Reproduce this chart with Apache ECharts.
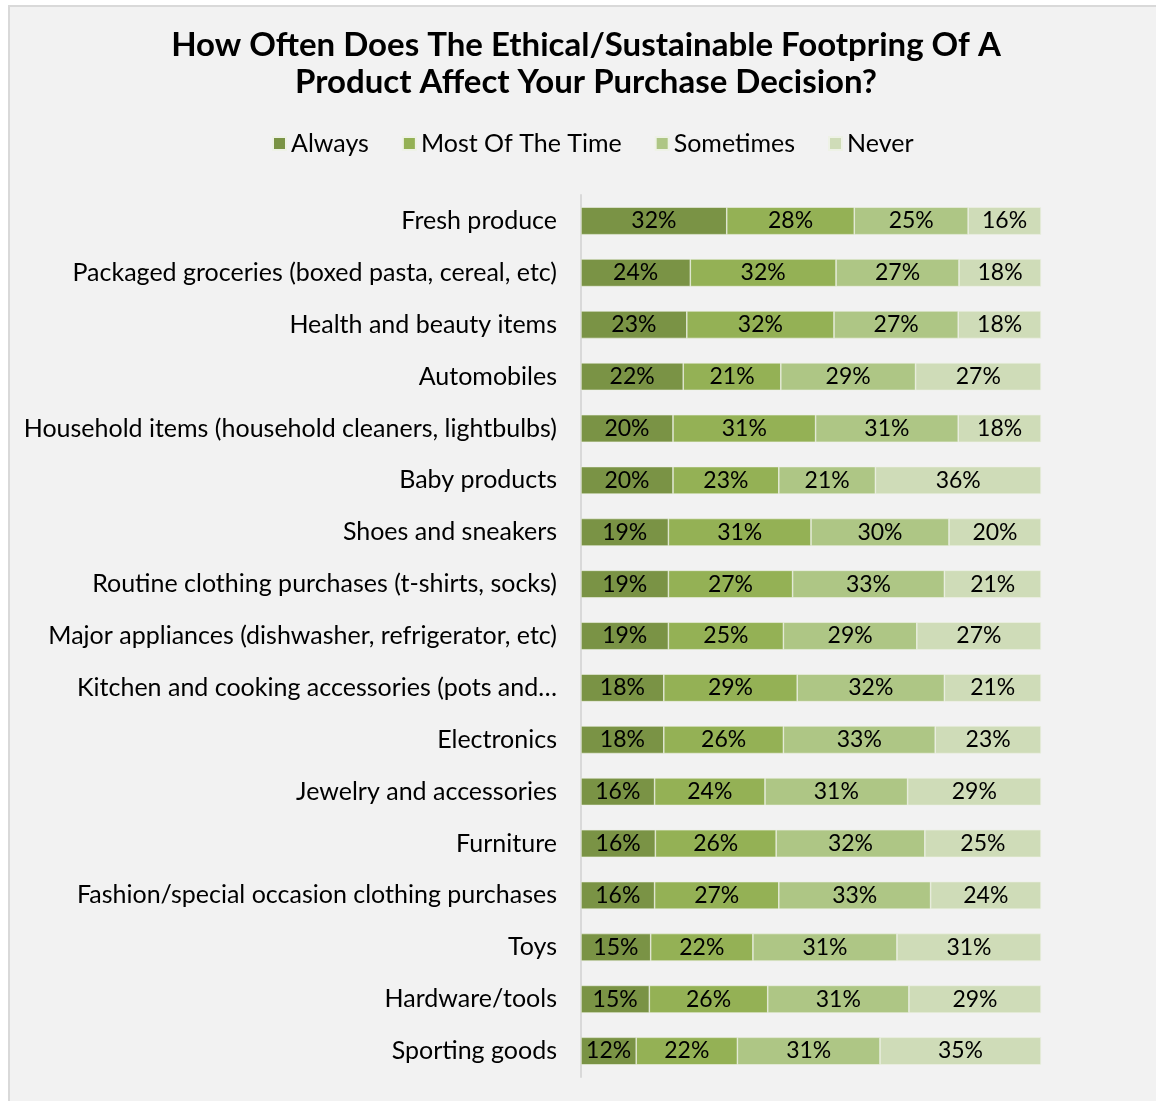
<!DOCTYPE html>
<html>
<head>
<meta charset="utf-8">
<style>
  html, body { margin: 0; padding: 0; background: #ffffff; }
  #chart { width: 1156px; height: 1101px; }
</style>
<script src="https://cdn.jsdelivr.net/npm/echarts@6/dist/echarts.min.js"></script>
</head>
<body>
<div id="chart"></div>
<script>
// Product categories, top to bottom
const categories = [
  'Fresh produce',
  'Packaged groceries (boxed pasta, cereal, etc)',
  'Health and beauty items',
  'Automobiles',
  'Household items (household cleaners, lightbulbs)',
  'Baby products',
  'Shoes and sneakers',
  'Routine clothing purchases (t-shirts, socks)',
  'Major appliances (dishwasher, refrigerator, etc)',
  'Kitchen and cooking accessories (pots and…',
  'Electronics',
  'Jewelry and accessories',
  'Furniture',
  'Fashion/special occasion clothing purchases',
  'Toys',
  'Hardware/tools',
  'Sporting goods'
];

// Share of respondents (%) per answer
const always     = [32, 24, 23, 22, 20, 20, 19, 19, 19, 18, 18, 16, 16, 16, 15, 15, 12];
const mostOfTime = [28, 32, 32, 21, 31, 23, 31, 27, 25, 29, 26, 24, 26, 27, 22, 26, 22];
const sometimes  = [25, 27, 27, 29, 31, 21, 30, 33, 29, 32, 33, 31, 32, 33, 31, 31, 31];
const never      = [16, 18, 18, 27, 18, 36, 20, 21, 27, 21, 23, 29, 25, 24, 31, 29, 35];

const seriesNames = ['Always', 'Most Of The Time', 'Sometimes', 'Never'];
const seriesColors = ['#7a9345', '#94b155', '#aec685', '#cfdcb8'];

// 100% stacked: each row is scaled to its own total, labels keep the stated value
const raw = [always, mostOfTime, sometimes, never];
const rowTotals = categories.map((_, i) => raw.reduce((s, arr) => s + arr[i], 0));

const FONT = 'Lato, "Open Sans", sans-serif';

const series = raw.map((arr, k) => ({
  name: seriesNames[k],
  type: 'bar',
  stack: 'total',
  barWidth: '53%',
  itemStyle: { color: seriesColors[k], borderColor: '#eef2e6', borderWidth: 0.6 },
  label: {
    show: true,
    position: 'inside',
    color: '#000000',
    fontFamily: FONT,
    fontSize: 23,
    formatter: p => arr[p.dataIndex] + '%'
  },
  data: arr.map((v, i) => ({ value: v / rowTotals[i] * 100 }))
}));

const chart = echarts.init(document.getElementById('chart'), null, { renderer: 'canvas' });
chart.setOption({
  backgroundColor: '#ffffff',
  animation: false,
  graphic: [{
    type: 'rect',
    z: -10,
    silent: true,
    shape: { x: 9, y: 6, width: 1200, height: 1200 },
    style: { fill: '#f2f2f2', stroke: '#d9d9d9', lineWidth: 2 }
  }],
  title: {
    text: 'How Often Does The Ethical/Sustainable Footpring Of A\nProduct Affect Your Purchase Decision?',
    left: 581,
    top: 22,
    textAlign: 'center',
    textStyle: {
      fontFamily: FONT,
      fontWeight: 'bold',
      fontSize: 33,
      lineHeight: 37,
      color: '#000000'
    }
  },
  legend: {
    data: seriesNames,
    left: 267,
    top: 126,
    itemWidth: 13,
    itemHeight: 13,
    itemGap: 33,
    icon: 'rect',
    textStyle: { fontFamily: FONT, fontSize: 25, color: '#000000' }
  },
  grid: { left: 581, right: 115, top: 195, bottom: 24, containLabel: false },
  xAxis: {
    type: 'value',
    min: 0,
    max: 100,
    show: false
  },
  yAxis: {
    type: 'category',
    data: categories,
    inverse: true,
    axisLine: { show: true, lineStyle: { color: '#d9d9d9', width: 2 } },
    axisTick: { show: false },
    splitLine: { show: false },
    axisLabel: {
      margin: 24,
      color: '#000000',
      fontFamily: FONT,
      fontSize: 25
    }
  },
  series: series
});
</script>
</body>
</html>
